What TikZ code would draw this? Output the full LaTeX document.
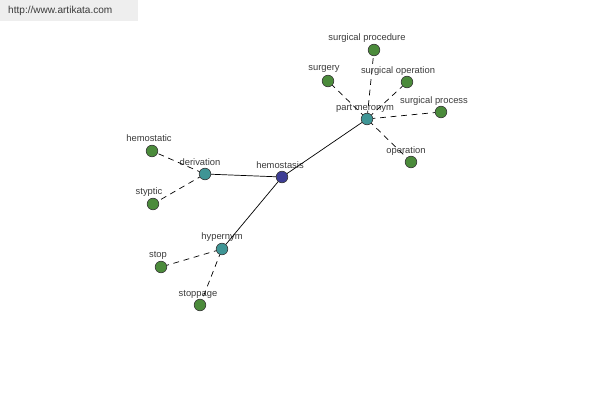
\documentclass[tikz,border=0pt]{standalone}
\usepackage{fontspec}
\setmainfont{Liberation Sans}
\definecolor{leafgreen}{HTML}{4B8B3B}
\definecolor{relteal}{HTML}{3F9595}
\definecolor{rootblue}{HTML}{3D3D94}
\definecolor{txtgray}{HTML}{3A3A3A}
\definecolor{headgray}{HTML}{EEEEEE}

\begin{document}
\begin{tikzpicture}[x=0.03cm, y=-0.03cm, font=\fontsize{8}{9}\selectfont,
  dot/.style={circle, draw=black!80, line width=0.5pt, minimum size=0.35cm, inner sep=0pt},
  lbl/.style={text=txtgray, inner sep=0pt},
  tie/.style={line width=0.6pt},
  hint/.style={line width=0.6pt, dash pattern=on 5pt off 4pt, dash phase=3pt}]

% page and site banner
\useasboundingbox (0,0) rectangle (600,400);
\fill[headgray] (0,0) rectangle (138,21);
\node[lbl, anchor=west, font=\fontsize{8.6}{10}\selectfont] (site) at (8,11) {http://www.artikata.com};

% root word
\node[dot, fill=rootblue] (hemostasis) at (282,177) {};
\node[lbl] (hemostasis-t) at (280,165) {hemostasis};

% relation nodes
\foreach \n/\x/\y/\t/\lx/\ly in {partmeronym/367/119/part meronym/365/108,
	derivation/205/174/derivation/200/162,
	hypernym/222/249/hypernym/222/237} {
	\node[dot, fill=relteal] (\n) at (\x,\y) {};
	\node[lbl] (\n-t) at (\lx,\ly) {\t};
	\draw[tie] (hemostasis) -- (\n);
	}

% related words
\foreach \n/\r/\x/\y/\t/\lx/\ly in {procedure/partmeronym/374/50/surgical procedure/367/38,
	surgery/partmeronym/328/81/surgery/324/69,
	soperation/partmeronym/407/82/surgical operation/398/71,
	process/partmeronym/441/112/surgical process/434/101,
	operation/partmeronym/411/162/operation/406/151,
	hemostatic/derivation/152/151/hemostatic/149/138,
	styptic/derivation/153/204/styptic/149/192,
	stop/hypernym/161/267/stop/158/255,
	stoppage/hypernym/200/305/stoppage/198/294} {
	\node[dot, fill=leafgreen] (\n) at (\x,\y) {};
	\node[lbl] (\n-t) at (\lx,\ly) {\t};
	\draw[hint] (\r) -- (\n);
	}

\end{tikzpicture}
\end{document}
